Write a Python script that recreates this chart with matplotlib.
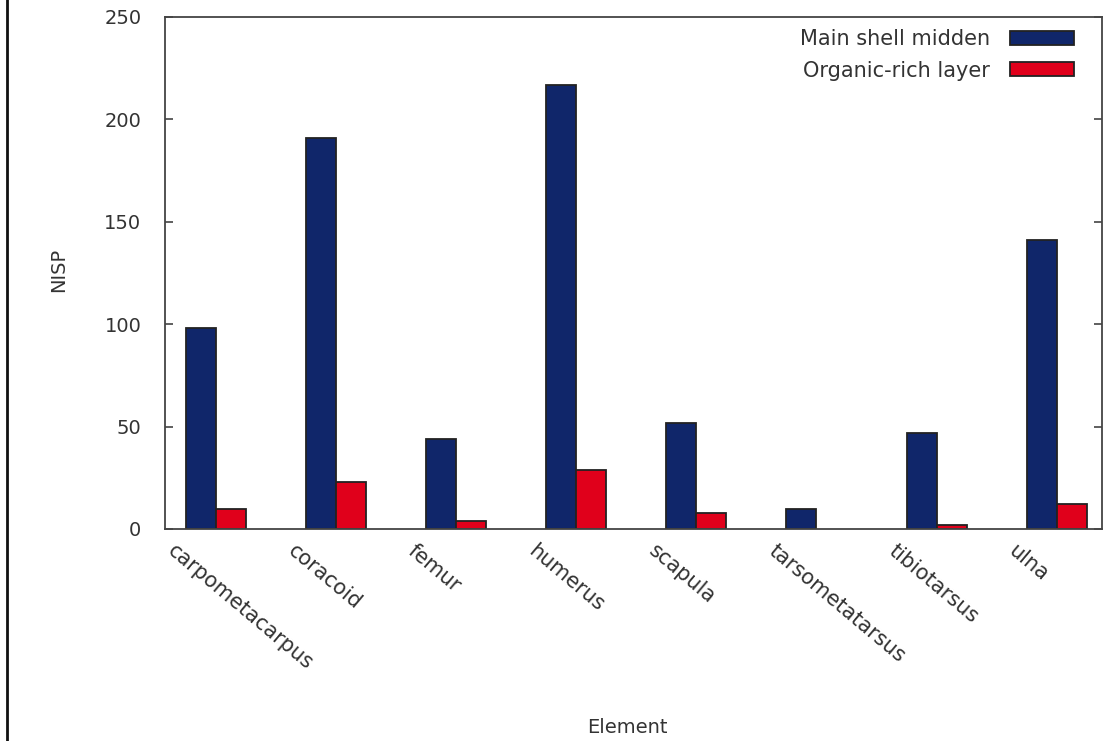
import matplotlib
matplotlib.use("Agg")
import matplotlib.pyplot as plt
import matplotlib.transforms as mtransforms
from matplotlib.lines import Line2D
import numpy as np

elements = ["carpometacarpus", "coracoid", "femur", "humerus",
            "scapula", "tarsometatarsus", "tibiotarsus", "ulna"]
main_midden = [98, 191, 44, 217, 52, 10, 47, 141]
organic_layer = [10, 23, 4, 29, 8, 0, 2, 12]
series_names = ["Main shell midden", "Organic-rich layer"]
y_ticks = [0, 50, 100, 150, 200, 250]

BLUE = "#10266a"
RED = "#e0001b"
EDGE = "#222222"
TEXT = "#333333"
FRAME = "#444444"

plt.rcParams["font.family"] = ["DejaVu Sans"]
plt.rcParams["font.size"] = 14

W, H = 1120, 741
AX_L, AX_R, AX_T, AX_B = 165, 1102, 17, 529
fig = plt.figure(figsize=(W / 100, H / 100), dpi=100)
ax = fig.add_axes([AX_L / W, 1 - AX_B / H, (AX_R - AX_L) / W, (AX_B - AX_T) / H])

x = np.arange(len(elements))
w = 0.25
ax.bar(x, main_midden, width=w, align="edge", color=BLUE,
       edgecolor=EDGE, linewidth=1.3, label=series_names[0])
red_x = [xi + w for xi, v in zip(x, organic_layer) if v > 0]
red_v = [v for v in organic_layer if v > 0]
ax.bar(red_x, red_v, width=w, align="edge", color=RED,
       edgecolor=EDGE, linewidth=1.3, label=series_names[1])

ax.set_xlim(-0.172, 7.627)
ax.set_ylim(0, 250)
ax.set_yticks(y_ticks)
ax.tick_params(axis="y", direction="in", length=6, width=1.2,
               left=True, right=True, colors=FRAME,
               labelcolor=TEXT, pad=17)

ax.set_xticks(x + w)
ax.set_xticklabels(elements, rotation=-40, ha="left", va="top",
                   rotation_mode="anchor", color=TEXT, fontsize=15)
ax.tick_params(axis="x", length=0, pad=0)
offset = mtransforms.ScaledTranslation(-0.39, -0.12, fig.dpi_scale_trans)
for lab in ax.get_xticklabels():
    lab.set_transform(lab.get_transform() + offset)

for sp in ax.spines.values():
    sp.set_color(FRAME)
    sp.set_linewidth(1.3)

ax_w, ax_h = AX_R - AX_L, AX_B - AX_T
ax.set_ylabel("NISP", color=TEXT)
ax.yaxis.set_label_coords((68 - AX_L) / ax_w, (AX_B - 270) / ax_h)
ax.set_xlabel("Element", color=TEXT)
ax.xaxis.set_label_coords((627 - AX_L) / ax_w, (AX_B - 718) / ax_h)

leg = ax.legend(loc="upper right", frameon=False, markerfirst=False,
                fontsize=15, handlelength=3.07, handleheight=0.67,
                labelspacing=0.54, handletextpad=0.96, borderaxespad=0.0,
                borderpad=0.4,
                bbox_to_anchor=((1082 - AX_L) / ax_w, (AX_B - 21) / ax_h))
for t in leg.get_texts():
    t.set_color(TEXT)

fig.add_artist(Line2D([6.5 / W, 6.5 / W], [0, 1], color="#111111",
                      linewidth=2.0, transform=fig.transFigure))

fig.savefig("out.png", dpi=100, facecolor="white")
